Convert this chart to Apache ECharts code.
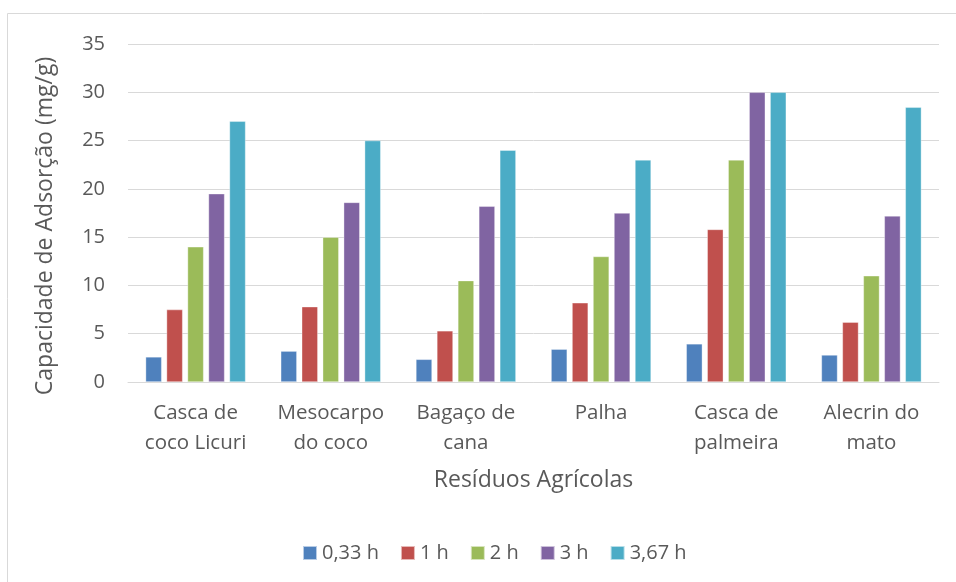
<!DOCTYPE html>
<html>
<head>
<meta charset="utf-8">
<script src="https://cdn.jsdelivr.net/npm/echarts@6/dist/echarts.min.js"></script>
<style>
  html, body { margin: 0; padding: 0; background: #fff; }
  #main { width: 956px; height: 582px; }
</style>
</head>
<body>
<div id="main"></div>
<script>
var categories = ['Casca de\ncoco Licuri', 'Mesocarpo\ndo coco', 'Bagaço de\ncana', 'Palha', 'Casca de\npalmeira', 'Alecrin do\nmato'];
var seriesNames = ['0,33 h', '1 h', '2 h', '3 h', '3,67 h'];
var t033 = [2.6, 3.2, 2.35, 3.4, 3.95, 2.8];
var t1 = [7.5, 7.8, 5.3, 8.2, 15.8, 6.2];
var t2 = [14, 15, 10.5, 13, 23, 11];
var t3 = [19.5, 18.6, 18.2, 17.5, 30, 17.2];
var t367 = [27, 25, 24, 23, 30, 28.45];
var colors = ['#4F81BD', '#C0504D', '#9BBB59', '#8064A2', '#4BACC6'];

var values = [t033, t1, t2, t3, t367];
var font = 'Open Sans';
var txt = '#595959';

var chart = echarts.init(document.getElementById('main'));
chart.setOption({
  animation: false,
  color: colors,
  textStyle: { fontFamily: font },
  graphic: [{
    type: 'rect',
    shape: { x: 7.5, y: 13.5, width: 960, height: 580 },
    style: { fill: 'none', stroke: '#d9d9d9', lineWidth: 1 }
  }],
  grid: { left: 128, right: 17, top: 44, bottom: 200 },
  legend: {
    top: 543,
    left: 302,
    padding: 0,
    itemWidth: 14,
    itemHeight: 14,
    itemGap: 21,
    icon: 'rect',
    textStyle: { color: txt, fontSize: 20, fontFamily: font },
    data: seriesNames
  },
  xAxis: {
    type: 'category',
    data: categories,
    name: 'Resíduos Agrícolas',
    nameLocation: 'middle',
    nameGap: 87,
    nameTextStyle: { color: txt, fontSize: 23, fontFamily: font },
    axisLine: { lineStyle: { color: '#d9d9d9', width: 1 } },
    axisTick: { show: false },
    axisLabel: { interval: 0, color: txt, fontSize: 20.5, fontFamily: font, lineHeight: 30, margin: 16 }
  },
  yAxis: {
    type: 'value',
    min: 0,
    max: 35,
    interval: 5,
    name: 'Capacidade de Adsorção (mg/g)',
    nameLocation: 'middle',
    nameGap: 71,
    nameTextStyle: { color: txt, fontSize: 23, fontFamily: font, padding: [0, 26, 0, 0] },
    axisLine: { show: false },
    axisTick: { show: false },
    splitLine: { lineStyle: { color: '#d9d9d9', width: 1 } },
    axisLabel: { color: txt, fontSize: 20, fontFamily: font, margin: 23 }
  },
  series: seriesNames.map(function (n, i) {
    return {
      name: n,
      type: 'bar',
      data: values[i],
      barGap: '30%',
      barCategoryGap: '26%',
      itemStyle: { borderColor: 'rgba(255,255,255,0.6)', borderWidth: 0.6 }
    };
  })
});
</script>
</body>
</html>
